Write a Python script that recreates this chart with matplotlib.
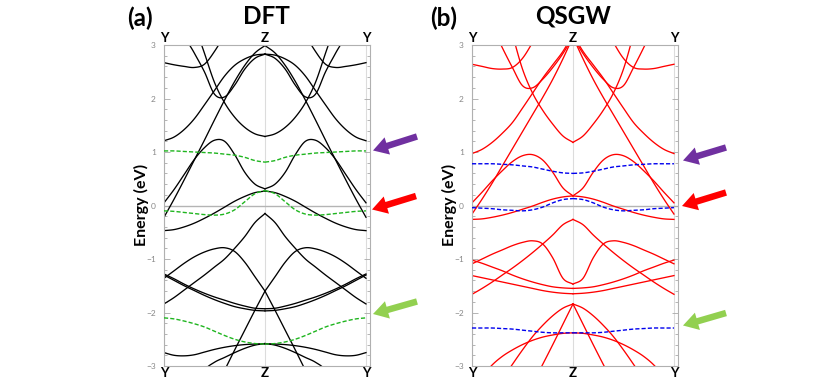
import numpy as np
import matplotlib
matplotlib.use("Agg")
import matplotlib.pyplot as plt
from matplotlib.patches import FancyArrow
from matplotlib.ticker import MultipleLocator

plt.rcParams['font.family'] = ['Lato', 'DejaVu Sans']

# k path Y -> Z (half path); bands are symmetric about Z
k_half = [0.0, 0.1, 0.2, 0.3, 0.4, 0.5, 0.6, 0.7, 0.8, 0.9, 1.0]
k_labels = ["Y", "Z", "Y"]

# DFT bands (eV), Y -> Z
dft_bands = [
    [-2.75, -2.80, -2.81, -2.79, -2.74, -2.69, -2.65, -2.62, -2.60, -2.59, -2.585],
    [-4.30, -4.00, -3.70, -3.42, -3.08, -2.93, -2.84, -2.75, -2.67, -2.61, -2.58],
    [-5.30, -4.95, -4.60, -4.22, -3.84, -3.46, -3.08, -2.70, -2.33, -1.96, -1.60],
    [-1.36, -1.22, -1.08, -0.96, -0.87, -0.81, -0.79, -0.86, -1.06, -1.33, -1.60],
    [-1.28, -1.37, -1.47, -1.56, -1.64, -1.71, -1.77, -1.83, -1.88, -1.92, -1.93],
    [-1.30, -1.40, -1.50, -1.59, -1.68, -1.76, -1.83, -1.89, -1.93, -1.96, -1.97],
    [-1.84, -1.72, -1.58, -1.44, -1.30, -1.15, -1.00, -0.80, -0.58, -0.32, -0.15],
    [-0.47, -0.45, -0.40, -0.33, -0.24, -0.14, -0.03, 0.08, 0.17, 0.24, 0.27],
    [-0.22, 0.12, 0.48, 0.85, 1.22, 1.60, 1.97, 2.32, 2.62, 2.85, 2.99],
    [0.05, 0.30, 0.58, 0.86, 1.08, 1.22, 1.20, 0.95, 0.62, 0.40, 0.31],
    [5.20, 4.60, 4.00, 3.40, 2.85, 2.30, 1.92, 1.65, 1.46, 1.34, 1.29],
    [1.21, 1.28, 1.42, 1.62, 1.88, 2.15, 2.42, 2.62, 2.74, 2.81, 2.83],
    [4.40, 3.80, 3.20, 2.85, 2.50, 2.08, 2.03, 2.25, 2.55, 2.75, 2.83],
    [2.67, 2.63, 2.60, 2.58, 2.64, 2.88, 3.20, 3.60, 4.00, 4.40, 4.80],
]
dft_flat = [
    [1.02, 1.02, 1.01, 1.00, 0.99, 0.98, 0.96, 0.94, 0.90, 0.84, 0.81],
    [-0.10, -0.11, -0.13, -0.15, -0.17, -0.18, -0.16, -0.08, 0.07, 0.22, 0.28],
    [-2.10, -2.12, -2.16, -2.21, -2.27, -2.35, -2.43, -2.50, -2.55, -2.58, -2.59],
]

# QSGW bands (eV), Y -> Z
gw_bands = [
    [-3.50, -3.20, -2.98, -2.82, -2.70, -2.60, -2.52, -2.46, -2.42, -2.39, -2.38],
    [-4.30, -3.95, -3.65, -3.25, -2.97, -2.70, -2.45, -2.24, -2.06, -1.92, -1.84],
    [-5.50, -5.15, -4.80, -4.44, -4.07, -3.70, -3.33, -2.97, -2.60, -2.22, -1.84],
    [-1.09, -1.00, -0.91, -0.83, -0.75, -0.69, -0.66, -0.72, -0.98, -1.36, -1.47],
    [-1.02, -1.08, -1.15, -1.22, -1.30, -1.37, -1.43, -1.48, -1.52, -1.54, -1.55],
    [-1.31, -1.35, -1.39, -1.43, -1.47, -1.51, -1.55, -1.59, -1.62, -1.64, -1.65],
    [-1.66, -1.55, -1.43, -1.30, -1.17, -1.03, -0.88, -0.72, -0.55, -0.36, -0.26],
    [-0.26, -0.25, -0.22, -0.18, -0.13, -0.07, -0.01, 0.06, 0.12, 0.16, 0.18],
    [-0.16, 0.12, 0.42, 0.74, 1.06, 1.38, 1.70, 2.02, 2.36, 2.74, 3.15],
    [0.05, 0.25, 0.46, 0.65, 0.82, 0.93, 0.95, 0.85, 0.62, 0.33, 0.18],
    [5.60, 5.00, 4.40, 3.85, 3.20, 2.55, 2.10, 1.78, 1.52, 1.30, 1.18],
    [0.97, 1.05, 1.18, 1.35, 1.55, 1.82, 2.10, 2.38, 2.63, 2.88, 3.20],
    [4.30, 3.80, 3.35, 2.95, 2.58, 2.24, 2.20, 2.36, 2.58, 2.84, 3.15],
    [2.64, 2.60, 2.56, 2.55, 2.58, 2.75, 3.05, 3.40, 3.80, 4.20, 4.60],
]
gw_flat = [
    [0.78, 0.78, 0.78, 0.77, 0.76, 0.74, 0.72, 0.68, 0.64, 0.61, 0.60],
    [-0.04, -0.05, -0.06, -0.08, -0.09, -0.10, -0.08, -0.03, 0.05, 0.11, 0.13],
    [-2.29, -2.29, -2.29, -2.30, -2.31, -2.33, -2.35, -2.37, -2.38, -2.38, -2.38],
]


def smooth(x, y, n=8):
    # cubic hermite through the read points, for a smooth line
    x = np.asarray(x, float)
    y = np.asarray(y, float)
    m = np.gradient(y, x)
    xs, ys = [], []
    for i in range(len(x) - 1):
        h = x[i + 1] - x[i]
        s = np.linspace(0, 1, n, endpoint=False)
        h00 = 2 * s**3 - 3 * s**2 + 1
        h10 = s**3 - 2 * s**2 + s
        h01 = -2 * s**3 + 3 * s**2
        h11 = s**3 - s**2
        xs.append(x[i] + s * h)
        ys.append(h00 * y[i] + h10 * h * m[i] + h01 * y[i + 1] + h11 * h * m[i + 1])
    xs.append([x[-1]])
    ys.append([y[-1]])
    return np.concatenate(xs), np.concatenate(ys)


def draw_band(ax, e, **kw):
    k = np.array(k_half)
    xl, yl = smooth(k, e)
    xr, yr = smooth(2 - k[::-1], e[::-1])
    ax.plot(xl, yl, **kw)
    ax.plot(xr, yr, **kw)


fig = plt.figure(figsize=(8.22, 3.86), dpi=100)
W, H = 822, 386


def panel(x0, x1):
    return fig.add_axes([x0 / W, 1 - 366 / H, (x1 - x0) / W, (366 - 45) / H])


ax_a = panel(164, 370)
ax_b = panel(472, 678)

for ax, bands, flats, col, fcol in [
    (ax_a, dft_bands, dft_flat, "black", "#1fb51f"),
    (ax_b, gw_bands, gw_flat, "#ff0000", "#0000ee"),
]:
    ax.set_xlim(0, 2.04)
    ax.set_ylim(-3, 3)
    for xv in [0, 1, 2]:
        ax.axvline(xv, color="#dcdcdc", lw=0.8, zorder=0)
    ax.axhline(0, color="#b4b4b4", lw=1.0, zorder=0)
    for e in bands:
        draw_band(ax, e, color=col, lw=0.95, zorder=2)
    for e in flats:
        draw_band(ax, e, color=fcol, lw=1.0, ls=(0, (3, 1.5)), zorder=3)

    ax.set_xticks([0, 1, 2])
    ax.set_xticklabels(k_labels, fontweight="bold", fontsize=9.5)
    ax.tick_params(axis="x", length=0, pad=1, top=True, labeltop=True)
    ax.set_yticks(range(-3, 4))
    ax.yaxis.set_minor_locator(MultipleLocator(0.2))
    ax.tick_params(axis="y", which="both", direction="in", left=True, right=True,
                   color="#a8a8a8", labelcolor="#888888", labelsize=6, width=0.6, pad=6)
    ax.tick_params(axis="y", which="major", length=4)
    ax.tick_params(axis="y", which="minor", length=2)
    for sp in ax.spines.values():
        sp.set_color("#b0b0b0")
        sp.set_linewidth(0.8)

# overlay in pixel coordinates for labels and arrows
ov = fig.add_axes([0, 0, 1, 1], zorder=5)
ov.set_xlim(0, W)
ov.set_ylim(H, 0)
ov.axis("off")
ov.patch.set_alpha(0)

ov.text(140, 18, "(a)", fontsize=17.5, fontweight="bold", ha="center", va="center")
ov.text(266, 16, "DFT", fontsize=17.5, fontweight="bold", ha="center", va="center")
ov.text(444, 18, "(b)", fontsize=17.5, fontweight="bold", ha="center", va="center")
ov.text(573, 16, "QSGW", fontsize=17.5, fontweight="bold", ha="center", va="center")
ov.text(141, 205, "Energy (eV)", fontsize=11.5, fontweight="bold", rotation=90, ha="center", va="center")
ov.text(449, 205, "Energy (eV)", fontsize=11.5, fontweight="bold", rotation=90, ha="center", va="center")

arrows = [
    ((417, 136.5), (373, 150.5), "#7030a0"),
    ((416, 196), (372, 209.5), "#ff0000"),
    ((417, 301.5), (373, 314), "#92d050"),
    ((726, 147.5), (683, 160.5), "#7030a0"),
    ((726, 192.5), (682, 206), "#ff0000"),
    ((726, 313), (683, 325.5), "#92d050"),
]
for (xt, yt), (xh, yh), c in arrows:
    ov.add_patch(FancyArrow(xt, yt, xh - xt, yh - yt, width=6.5, head_width=18,
                            head_length=15, length_includes_head=True,
                            color=c, lw=0))

fig.savefig("out.png", dpi=100)
